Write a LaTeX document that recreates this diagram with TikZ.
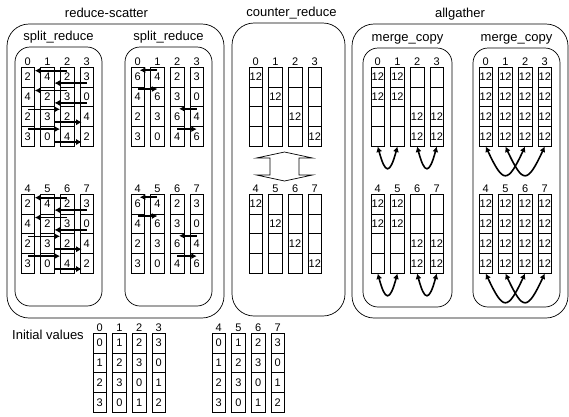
\documentclass[tikz,border=0pt]{standalone}
\usepackage{fontspec}
\setmainfont{Liberation Sans}
\usetikzlibrary{arrows.meta,positioning,calc}

\newcommand{\bufarray}[5]{%
  \foreach \vals [count=\cl from 0] in {#5} {
    \foreach \v [count=\rw from 0] in \vals
      \node[cell] (#1c\cl r\rw) at ({#2+\cl*19.67+6.75},{#3+\rw*19.8+9.9}) {\v};
    \pgfmathtruncatemacro\rk{#4+\cl}
    \node[rank] (#1n\cl) at (#1c\cl r0.north) {\rk};
  }
}

\begin{document}
\begin{tikzpicture}[x=1pt, y=-1pt]
    \tikzset{grpbox/.style={draw, rounded corners=22pt, line width=0.7pt, inner sep=0pt},
             subbox/.style={draw, rounded corners=15pt, line width=0.7pt, inner sep=0pt},
             ttl/.style={font=\fontsize{13}{15}\selectfont, inner sep=2.5pt,
                         text height=9pt, text depth=3pt},
             cell/.style={draw, line width=0.6pt, minimum width=13.5pt, minimum height=19.8pt,
                          inner sep=0pt, font=\fontsize{11}{12}\selectfont},
             rank/.style={anchor=south, inner sep=1.2pt, font=\fontsize{11}{12}\selectfont},
             xfer/.style={line width=1.6pt, -{Latex[length=5.5pt,width=6pt]}},
             xchg/.style={line width=1.6pt,
                          {Latex[length=5.5pt,width=6pt]}-{Latex[length=5.5pt,width=6pt]}}}
    \useasboundingbox (0,0) rectangle (569,416);

    \node[grpbox, minimum width=217pt, minimum height=294pt,
          label={[ttl, xshift=-9pt]above:reduce-scatter}] (rs) at (115.5,171) {};
    \node[grpbox, minimum width=113pt, minimum height=293pt,
          label={[ttl, xshift=3pt]above:counter\_reduce}] (cr) at (288.5,169.5) {};
    \node[grpbox, minimum width=216pt, minimum height=294pt,
          label={[ttl]above:allgather}] (ag) at (460,171) {};

    \node[subbox, minimum width=87pt, minimum height=259pt,
          label={[ttl]above:split\_reduce}] (sr1) at (58.5,176.5) {};
    \node[subbox, minimum width=87pt, minimum height=259pt,
          label={[ttl]above:split\_reduce}] (sr2) at (168.5,176.5) {};
    \node[subbox, minimum width=89pt, minimum height=259pt,
          label={[ttl]above:merge\_copy}] (mc1) at (407.5,177.5) {};
    \node[subbox, minimum width=87pt, minimum height=259pt,
          label={[ttl]above:merge\_copy}] (mc2) at (516.5,177.5) {};

    \bufarray{sA}{21}{67}{0}{{2,4,2,3},{4,2,3,0},{2,3,2,4},{3,0,4,2}}
    \bufarray{sB}{21}{194}{4}{{2,4,2,3},{4,2,3,0},{2,3,2,4},{3,0,4,2}}
    \bufarray{sC}{131}{67}{0}{{6,4,2,3},{4,6,3,0},{2,3,6,4},{3,0,4,6}}
    \bufarray{sD}{131}{194}{4}{{6,4,2,3},{4,6,3,0},{2,3,6,4},{3,0,4,6}}
    \bufarray{cA}{249}{67}{0}{{12,{},{},{}},{{},12,{},{}},{{},{},12,{}},{{},{},{},12}}
    \bufarray{cB}{249}{194}{4}{{12,{},{},{}},{{},12,{},{}},{{},{},12,{}},{{},{},{},12}}
    \bufarray{mA}{371}{67}{0}{{12,12,{},{}},{12,12,{},{}},{{},{},12,12},{{},{},12,12}}
    \bufarray{mB}{371}{194}{4}{{12,12,{},{}},{12,12,{},{}},{{},{},12,12},{{},{},12,12}}
    \bufarray{mC}{479}{67}{0}{{12,12,12,12},{12,12,12,12},{12,12,12,12},{12,12,12,12}}
    \bufarray{mD}{479}{194}{4}{{12,12,12,12},{12,12,12,12},{12,12,12,12},{12,12,12,12}}
    \bufarray{iA}{93}{333}{0}{{0,1,2,3},{1,2,3,0},{2,3,0,1},{3,0,1,2}}
    \bufarray{iB}{212}{333}{4}{{0,1,2,3},{1,2,3,0},{2,3,0,1},{3,0,1,2}}

    \node[ttl] (init) at (48,336) {Initial values};

    \foreach \p in {sA,sB} {
      \foreach \rw in {0,1} {
        \draw[xfer] ([yshift=-4pt]\p c2r\rw.north) -- ([yshift=-4pt]\p c0r\rw.north east);
        \draw[xfer] ([yshift=4pt]\p c3r\rw.south) -- ([yshift=4pt]\p c1r\rw.south east);
      }
      \foreach \rw in {2,3} {
        \draw[xfer] ([yshift=-3pt]\p c0r\rw.north) -- ([yshift=-3pt]\p c2r\rw.north west);
        \draw[xfer] ([yshift=4.5pt]\p c1r\rw.south east) -- ([shift={(2pt,4.5pt)}]\p c3r\rw.south west);
      }
    }
    \foreach \p in {sC,sD} {
      \draw[xfer] ([yshift=-3.5pt]\p c1r0.north) -- ([shift={(2pt,-3.5pt)}]\p c0r0.north);
      \draw[xfer] ([yshift=-2.5pt]\p c0r1.north) -- ([yshift=-2.5pt]\p c1r1.north);
      \draw[xfer] ([yshift=-2.5pt]\p c3r2.north) -- ([shift={(2pt,-2.5pt)}]\p c2r2.north);
      \draw[xfer] ([yshift=-3pt]\p c2r3.north) -- ([yshift=-3pt]\p c3r3.north);
    }

    \draw[line width=0.7pt] (284.5,152) -- (312.5,158) -- (299,158) -- (299,175) -- (312.5,175)
      -- (284.5,181) -- (256.5,175) -- (270,175) -- (270,158) -- (256.5,158) -- cycle;

    \foreach \p in {mA,mB} {
      \draw[xchg] (\p c0r3.south) to[out=-75, in=-105, looseness=3.8] (\p c1r3.south);
      \draw[xchg] (\p c2r3.south) to[out=-75, in=-105, looseness=3.8] (\p c3r3.south);
    }
    \foreach \p in {mC,mD} {
      \draw[xchg] (\p c0r3.south) to[out=-65, in=-115, looseness=2.7] (\p c2r3.south);
      \draw[xchg] (\p c1r3.south) to[out=-65, in=-115, looseness=2.7] (\p c3r3.south);
    }
  \end{tikzpicture}
\end{document}
